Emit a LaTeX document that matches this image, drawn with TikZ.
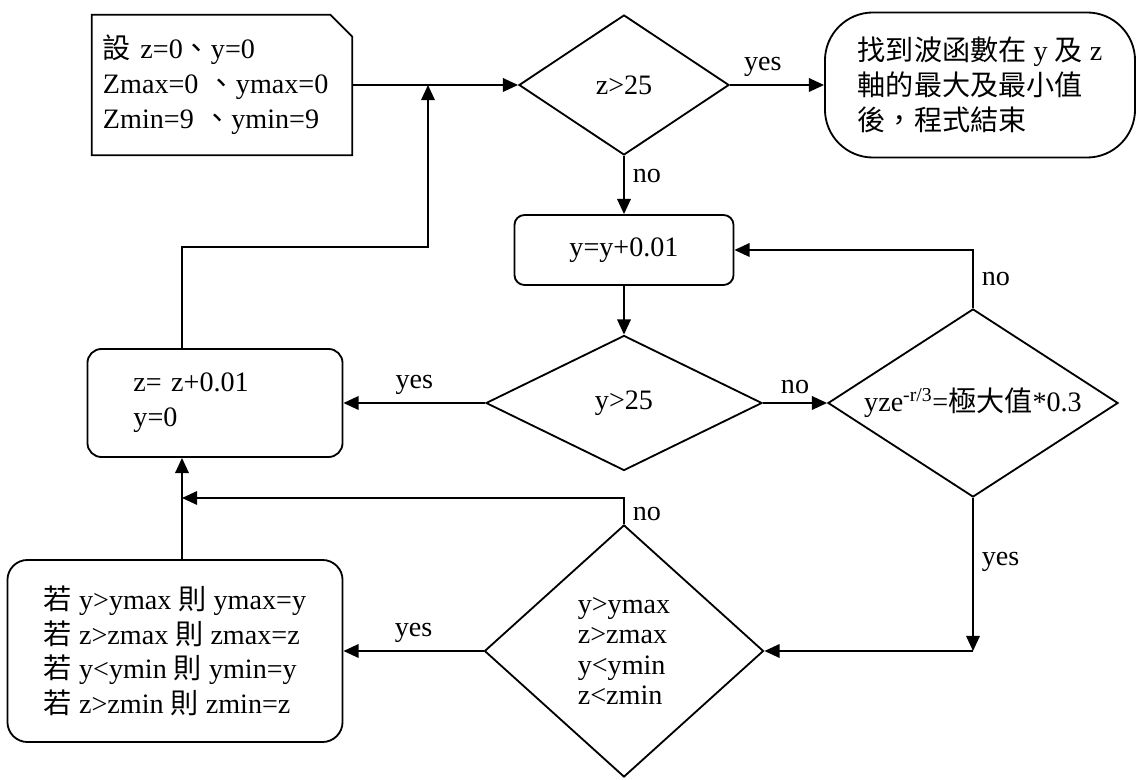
\documentclass[tikz,border=0pt]{standalone}
\usepackage{fontspec}
\setmainfont{Liberation Serif}
\newfontfamily\cjk{Noto Sans CJK TC}
\def\zh#1{{\cjk #1}}
\usetikzlibrary{shapes.geometric,arrows.meta,calc}

\begin{document}
\begin{tikzpicture}[x=0.025cm,y=-0.025cm,
					every node/.style={font=\fontsize{20}{25}\selectfont},
					wire/.style={line width=1.3pt},
					arrow/.style={wire,-{Triangle[length=0.38cm,width=0.34cm]}},
					decision/.style={draw,wire,diamond,inner sep=0pt},
					process/.style={draw,wire,rectangle,rounded corners=0.25cm},
					tag/.style={inner sep=0.2cm}]
				\useasboundingbox (0,0) rectangle (1139,780);
				\node[minimum width=6.5cm,minimum height=3.5cm,text width=5.95cm,inner xsep=0.275cm,align=left] (init) at (222,85)
					{\zh{設} z=0\zh{、}y=0\\Zmax=0 \zh{、}ymax=0\\Zmin=9 \zh{、}ymin=9};
				\draw[wire] (init.south west) -- (init.north west) -- ($(init.north east)+(-22,0)$)
					-- ($(init.north east)+(0,22)$) -- (init.south east) -- cycle;
				\node[decision,aspect=1.5,minimum width=5.25cm,minimum height=3.5cm] (zchk) at (624,85) {z>25};
				\node[draw,wire,rounded corners=1.2cm,minimum width=7.75cm,minimum height=3.625cm,align=left] (done) at (980,85)
					{\zh{找到波函數在} y \zh{及} z\\\zh{軸的最大及最小值}\\\zh{後，程式結束}};
				\node[process,minimum width=5.475cm,minimum height=1.75cm] (ystep) at (624,250) {y=y+0.01};
				\node[decision,aspect=2,minimum width=6.9cm,minimum height=3.375cm] (ychk) at (624,403) {y>25};
				\node[process,rounded corners=0.35cm,minimum width=6.375cm,minimum height=2.7cm,text width=4.075cm,inner xsep=1.15cm,align=left] (zstep) at (215,403)
					{z= z+0.01\\y=0};
				\node[decision,aspect=1.55,minimum width=7.25cm,minimum height=4.7cm] (peak) at (973,403)
					{yze\textsuperscript{-r/3}=\zh{極大值}*0.3};
				\node[decision,aspect=1.1,minimum width=6.975cm,minimum height=6.3cm,align=left,font=\fontsize{20}{21.5}\selectfont] (cchk) at (624,651)
					{y>ymax\\z>zmax\\y<ymin\\z<zmin};
				\node[process,rounded corners=0.5cm,minimum width=8.375cm,minimum height=4.55cm,align=left,font=\fontsize{20}{24.5}\selectfont] (upd) at (175,651)
					{\zh{若} y>ymax \zh{則} ymax=y\\\zh{若} z>zmax \zh{則} zmax=z\\\zh{若} y<ymin \zh{則} ymin=y\\\zh{若} z>zmin \zh{則} zmin=z};
				\coordinate (bend) at (973,651);
				\coordinate (merge) at (182,498);
				\coordinate (loop) at (428,247);
				\draw[arrow] (init.east) -- (zchk.west);
				\draw[arrow] (zchk.east) -- node[tag,above,pos=0.35] {yes} (done.west);
				\draw[arrow] (zchk.south) -- node[tag,right,pos=0.35] {no} (ystep.north);
				\draw[arrow] (ystep.south) -- (ychk.north);
				\draw[arrow] (ychk.west) -- node[tag,above] {yes} (zstep.east);
				\draw[arrow] (ychk.east) -- node[tag,above] {no} (peak.west);
				\draw[arrow] (peak.north) |- node[tag,right,pos=0.25] {no} (ystep.east);
				\draw[arrow] (peak.south) -- node[tag,right,pos=0.42] {yes} (bend);
				\draw[arrow] (bend) -- (cchk.east);
				\draw[arrow] (cchk.west) -- node[tag,above] {yes} (upd.east);
				\draw[arrow] (cchk.north) |- node[tag,right,pos=0.2] {no} (merge);
				\draw[arrow] (upd.north -| merge) -- (zstep.south -| merge);
				\draw[arrow] (zstep.north -| merge) |- (loop) -- (loop |- init.east);
			\end{tikzpicture}
\end{document}
